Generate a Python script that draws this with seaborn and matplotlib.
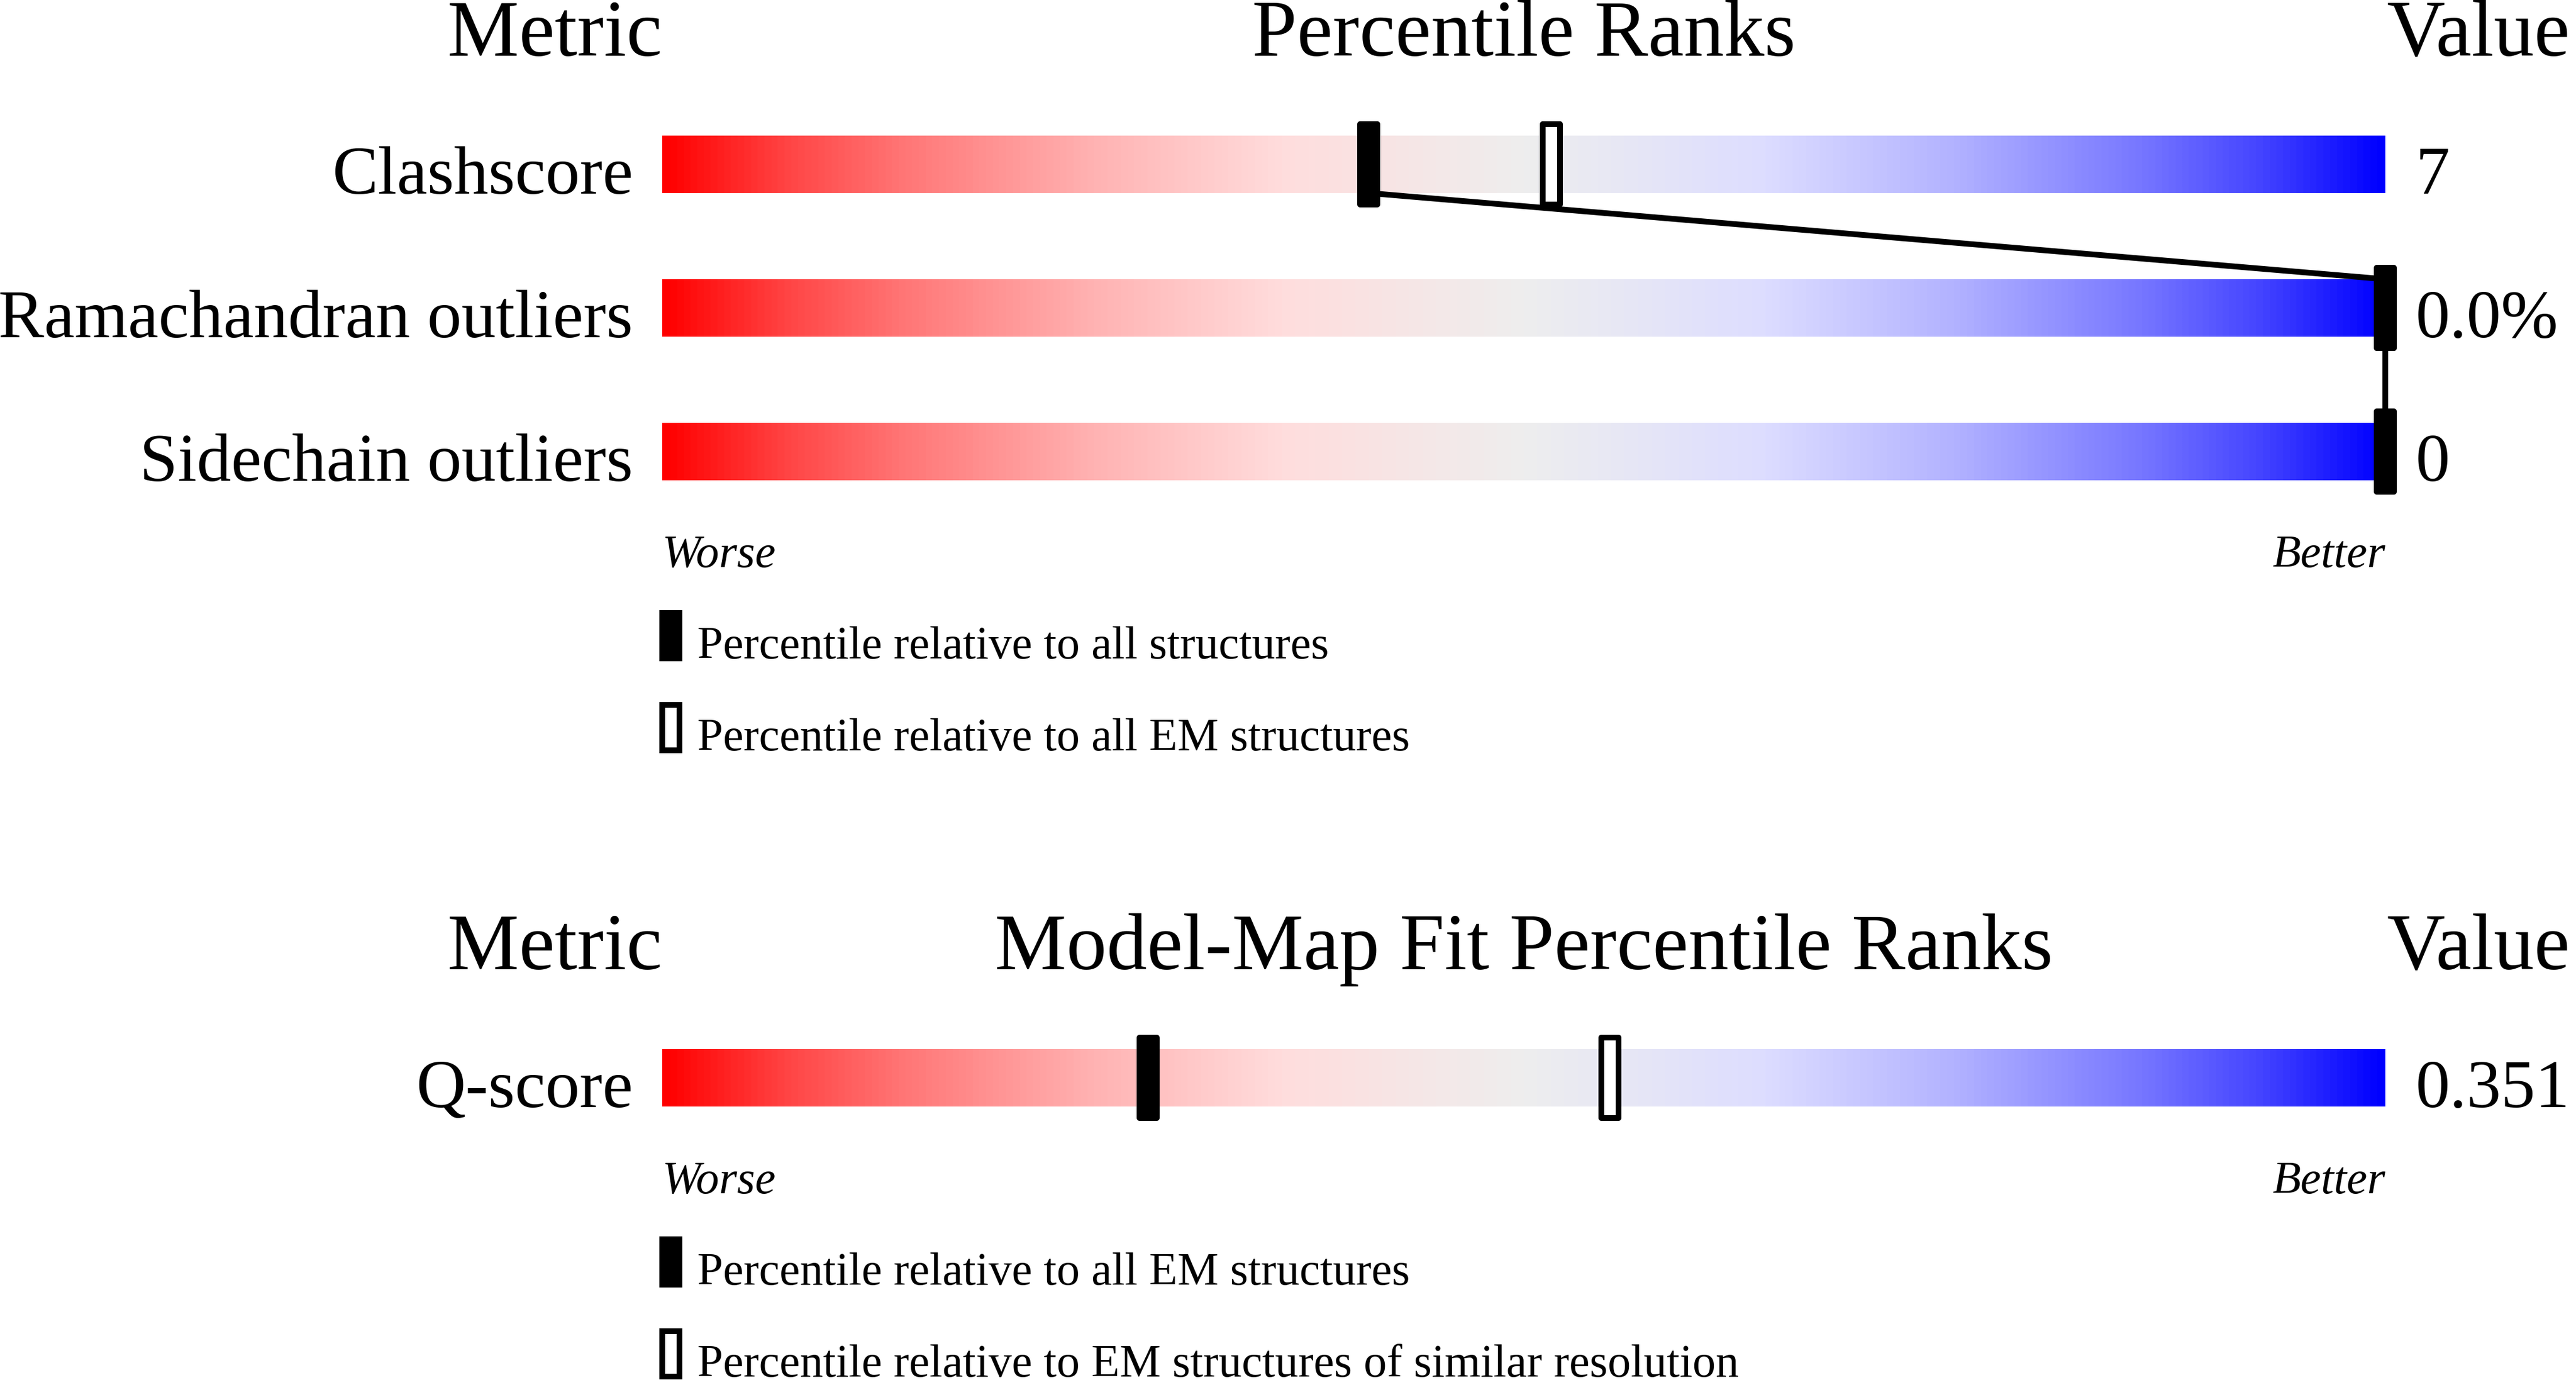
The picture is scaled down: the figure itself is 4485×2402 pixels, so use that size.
import numpy as np
import pandas as pd
import matplotlib
matplotlib.use("Agg")
import matplotlib.pyplot as plt
import seaborn as sns
from matplotlib.colors import LinearSegmentedColormap
from matplotlib.path import Path
from matplotlib.patches import Rectangle

# Global validation percentile ranks
metrics = ["Clashscore", "Ramachandran outliers", "Sidechain outliers"]
pct_all = [41, 100, 100]
pct_em = [51.6, np.nan, np.nan]
values = ["7", "0.0%", "0"]
legend_top = ["Percentile relative to all structures",
              "Percentile relative to all EM structures"]

# Model-map fit percentile ranks
fit_metrics = ["Q-score"]
fit_pct_em = [28.2]
fit_pct_res = [55]
fit_values = ["0.351"]
legend_fit = ["Percentile relative to all EM structures",
              "Percentile relative to EM structures of similar resolution"]

# layout (pixels)
W, H = 4485, 2402
X0, X1 = 1153, 4153
BAR_H = 100
ROW_Y = [286, 536, 786]
FIT_Y = [1876]
LW = 7.2
S = (140 * 0.72) ** 2

sns.set_style("white")
plt.rcParams["font.family"] = ["Liberation Serif", "DejaVu Serif"]
plt.rcParams["text.color"] = "black"

cmap = LinearSegmentedColormap.from_list("rank", [
    (0.0, "#ff0000"), (0.07, "#ff4444"), (0.14, "#ff7777"), (0.25, "#ffb3b3"),
    (0.36, "#ffdddd"), (0.5, "#eeeeee"), (0.64, "#ddddff"), (0.75, "#b3b3ff"),
    (0.86, "#7777ff"), (0.93, "#4444ff"), (1.0, "#0000ff")])

marker = Path([(-15, -70), (15, -70), (15, 70), (-15, 70), (-15, -70)], closed=True)

fig = plt.figure(figsize=(W / 100, H / 100), dpi=100)
ax = fig.add_axes([0, 0, 1, 1])
txt = fig.add_axes([0, 0, 1, 1])
scale = (X1 - X0) / 100


def draw_panel(ys, names, solid, hollow, vals, title, legend_labels):
    grad = np.linspace(0, 1, 600)[None, :]
    for y in ys:
        ax.imshow(grad, cmap=cmap, extent=[0, 100, y + BAR_H / 2, y - BAR_H / 2],
                  aspect="auto", interpolation="bilinear", zorder=1)

    df = pd.DataFrame({"y": ys, "solid": solid, "hollow": hollow})
    sns.scatterplot(data=df, x="solid", y="y", marker=marker, s=S, color="black",
                    edgecolor="black", linewidth=LW, zorder=4, ax=ax, legend=False)
    sns.scatterplot(data=df.dropna(subset=["hollow"]), x="hollow", y="y", marker=marker,
                    s=S, color="white", edgecolor="black", linewidth=LW, zorder=4,
                    ax=ax, legend=False)

    # connect the solid markers from row to row
    lx, ly = [], []
    for i in range(len(ys) - 1):
        lx += [solid[i], solid[i + 1]]
        ly += [ys[i] + BAR_H / 2, ys[i + 1] - BAR_H / 2]
    if lx:
        ax.plot(lx, ly, color="black", lw=LW, zorder=3, solid_capstyle="butt")

    head = ys[0] - 189
    txt.text(X0, head, "Metric", ha="right", va="baseline", fontsize=101)
    txt.text((X0 + X1) / 2, head, title, ha="center", va="baseline", fontsize=101)
    txt.text(X1 + 2, head, "Value", ha="left", va="baseline", fontsize=101)

    for y, name, v in zip(ys, names, vals):
        txt.text(X0 - 51, y + 51, name, ha="right", va="baseline", fontsize=86)
        txt.text(X1 + 52, y + 51, v, ha="left", va="baseline", fontsize=86)

    base = ys[-1] + 201
    txt.text(X0, base, "Worse", ha="left", va="baseline", fontsize=58, style="italic")
    txt.text(X1, base, "Better", ha="right", va="baseline", fontsize=58, style="italic")

    txt.add_patch(Rectangle((X0 - 5, base + 75), 40, 89, facecolor="black", edgecolor="none"))
    txt.add_patch(Rectangle((X0, base + 240), 30, 79, facecolor="white",
                            edgecolor="black", linewidth=LW))
    txt.text(X0 + 61, base + 159, legend_labels[0], ha="left", va="baseline", fontsize=58)
    txt.text(X0 + 61, base + 319, legend_labels[1], ha="left", va="baseline", fontsize=58)


draw_panel(ROW_Y, metrics, pct_all, pct_em, values, "Percentile Ranks", legend_top)
draw_panel(FIT_Y, fit_metrics, fit_pct_em, fit_pct_res, fit_values,
           "Model-Map Fit Percentile Ranks", legend_fit)

ax.set_xlim(-X0 / scale, (W - X0) / scale)
ax.set_ylim(H, 0)
ax.axis("off")
txt.set_xlim(0, W)
txt.set_ylim(H, 0)
txt.axis("off")

fig.savefig("out.png", dpi=100)
